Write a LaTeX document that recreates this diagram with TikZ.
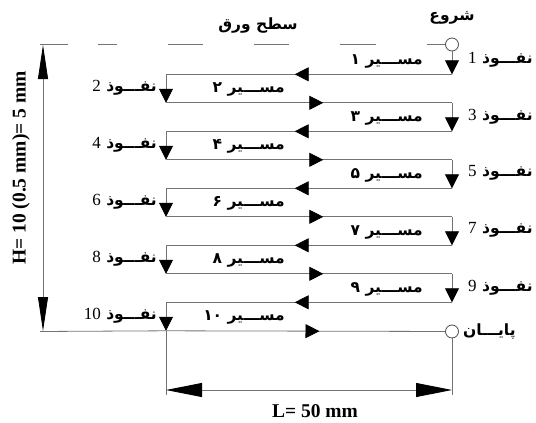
\documentclass[tikz,border=0pt]{standalone}
\usepackage{fontspec}
\setmainfont{Liberation Serif}
\newfontfamily\farsi[Script=Arabic]{DejaVu Sans}
\TeXXeTstate=1
\usetikzlibrary{arrows.meta,decorations.markings}

\newcommand{\nfz}[1]{\beginR نفـــوذ \beginL{\rmfamily\mdseries\fontsize{17}{19}\selectfont #1}\endL\endR}
\newcommand{\msr}[1]{\beginR مســـیر \beginL#1\endL\endR}

\begin{document}
\begin{tikzpicture}[
  x=1pt, y=-1pt,
  line/.style={draw=black!55, line width=0.8pt},
  downarrow/.style={line, -{Triangle[length=14pt,width=14pt,color=black]}},
  midarrow/.style={line, postaction={decorate},
    decoration={markings, mark=at position 0.55 with {\arrow{Triangle[length=14pt,width=14pt,color=black]}}}},
  dimv/.style={line, {Triangle[length=34pt,width=10pt,color=black]}-{Triangle[length=34pt,width=10pt,color=black]}},
  dimh/.style={line, {Triangle[length=36pt,width=14pt,color=black]}-{Triangle[length=36pt,width=14pt,color=black]}},
  fa/.style={font=\farsi\bfseries\fontsize{15.5}{17}\selectfont, inner sep=1pt},
  big/.style={font=\bfseries\fontsize{19.5}{21}\selectfont, inner sep=1pt},
  ring/.style={circle, draw=black!70, line width=0.8pt, minimum size=13pt, inner sep=0pt, fill=white}
]
\useasboundingbox (0,0) rectangle (536,423);

%======================
% START / END + SHEET LINE
%======================

\node[ring] (start) at (452,44.5) {};
\node[ring] (end) at (452,331.5) {};
\coordinate (tl) at (40,44.5);

% sheet surface (dashed)
\draw[line, dash pattern=on 28pt off 30pt on 19pt off 51pt on 35pt off 51pt on 35pt off 51pt on 36pt off 51pt on 20pt] (tl) -- (start);

\node[fa] (go) at (452,18) {\beginR شروع\endR};
\node[fa] (sheet) at (258,26) {\beginR سطح ورق\endR};
\node[fa, anchor=west] (fin) at (462,331.5) {\beginR پایـــان\endR};

%======================
% ROW CORNERS + LABELS
%======================

\foreach \k/\d in {1/۱,2/۲,3/۳,4/۴,5/۵,6/۶,7/۷,8/۸,9/۹,10/۱۰}{
  \pgfmathsetmacro{\yy}{74.3+28.5*(\k-1)}
  \coordinate (R\k) at (452,\yy);
  \coordinate (L\k) at (166,\yy);
  \ifodd\k
    \node[fa, anchor=west] (n\k) at (467,\yy-15) {\nfz{\k}};
    \node[fa, anchor=east] (p\k) at (424,\yy-13) {\msr{\d}};
  \else
    \node[fa, anchor=east] (n\k) at (158,\yy-15) {\nfz{\k}};
    \node[fa, anchor=east] (p\k) at (286,\yy-13) {\msr{\d}};
  \fi
}

%======================
% ZIGZAG PATH
%======================

\draw[downarrow] (start) -- (R1);
\foreach \k [evaluate=\k as \n using int(\k+1)] in {1,3,...,9}{
  \draw[midarrow] (R\k) -- (L\k);
  \draw[downarrow] (L\k) -- (L\n);
}
\foreach \k [evaluate=\k as \n using int(\k+1)] in {2,4,...,8}{
  \draw[midarrow] (L\k) -- (R\k);
  \draw[downarrow] (R\k) -- (R\n);
}
\draw[midarrow] (L10) -- (end);

%======================
% DIMENSIONS
%======================

% height
\coordinate (ht) at (43,45);
\coordinate (hb) at (43,331);
\coordinate (hx) at (40,331.5);
\draw[line] (hx) -- (L10);
\draw[dimv] (ht) -- (hb);
\node[big, rotate=90] (hlbl) at (21,168) {H= 10 (0.5 mm)= 5 mm};

% length
\coordinate (el) at (166,395);
\coordinate (er) at (452,395);
\coordinate (dl) at (166,390);
\coordinate (dr) at (452,390);
\draw[line] (L10) -- (el);
\draw[line] (end) -- (er);
\draw[dimh] (dl) -- (dr);
\node[big] (llbl) at (315,411) {L= 50 mm};

\end{tikzpicture}
\end{document}
